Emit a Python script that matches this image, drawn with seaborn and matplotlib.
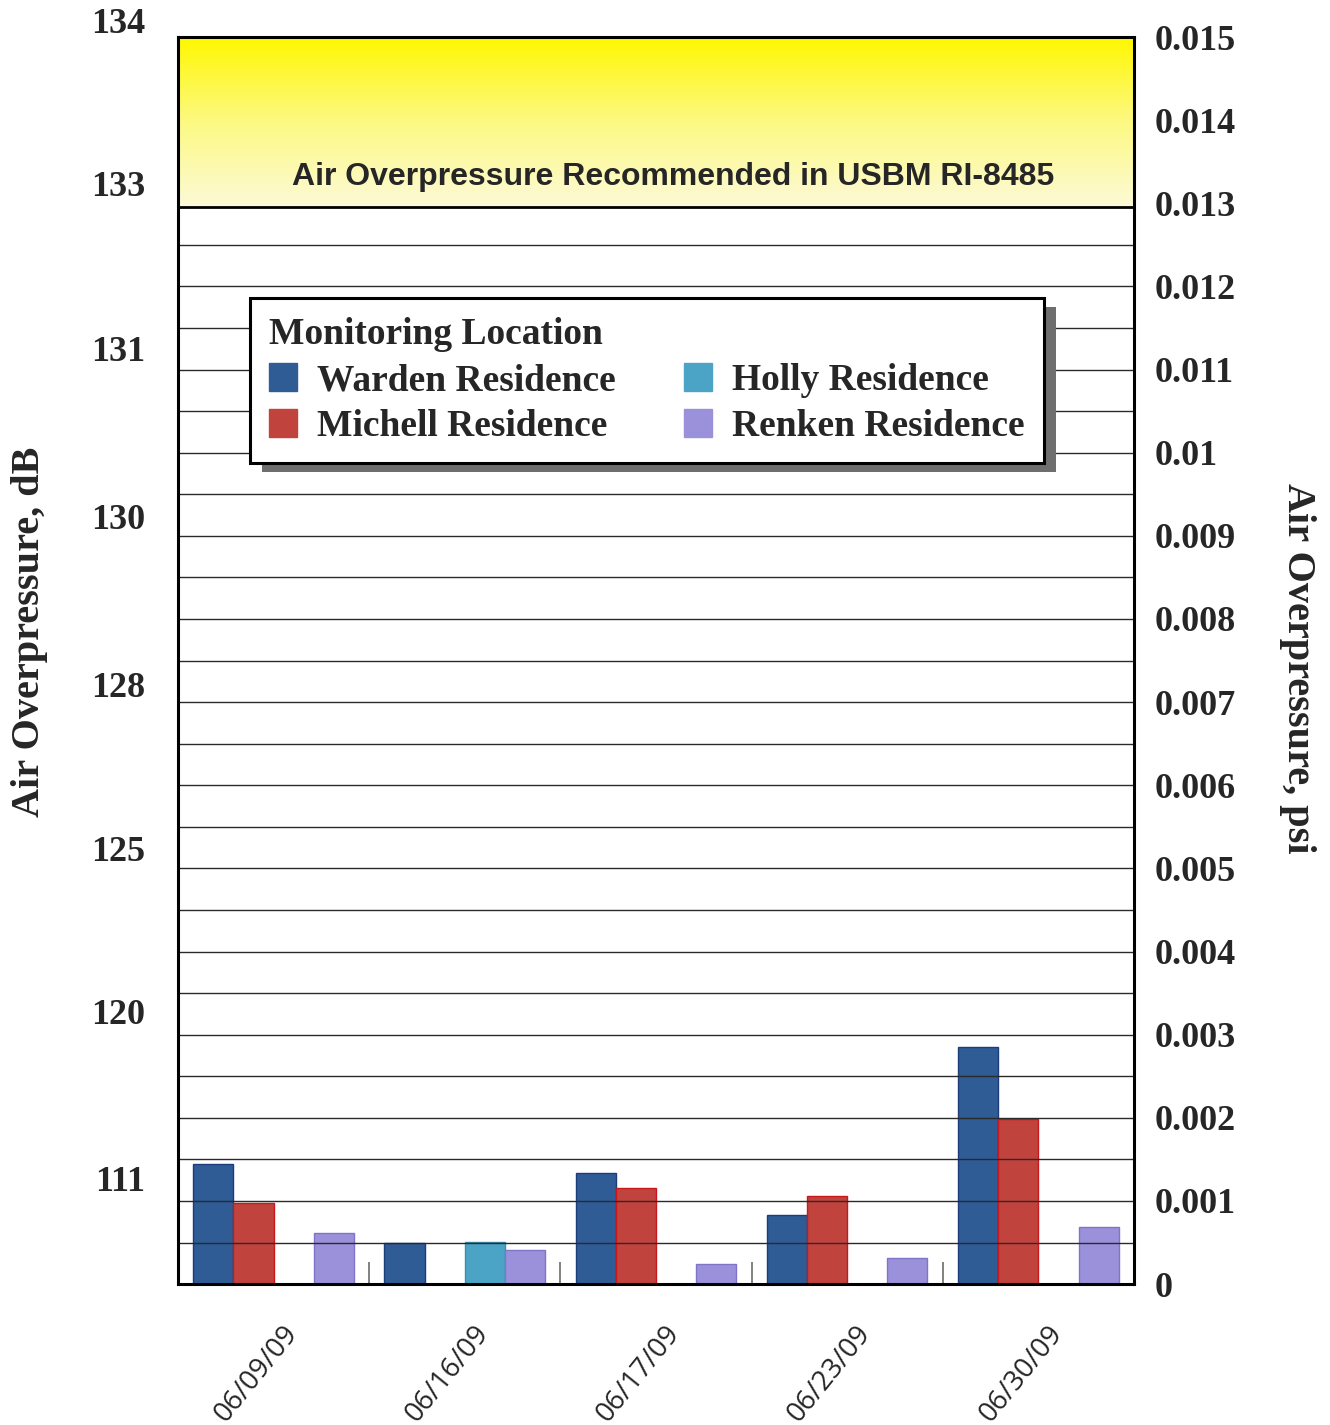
import numpy as np
import pandas as pd
import matplotlib
matplotlib.use("Agg")
import matplotlib.pyplot as plt
import matplotlib.transforms as mtransforms
from matplotlib.patches import Patch, Rectangle
from matplotlib.ticker import FixedLocator, MultipleLocator
from matplotlib.colors import LinearSegmentedColormap
import seaborn as sns

# ---------------- data ----------------
dates = ["06/09/09", "06/16/09", "06/17/09", "06/23/09", "06/30/09"]
locations = ["Warden Residence", "Michell Residence", "Holly Residence", "Renken Residence"]
warden = [0.00144, 0.00050, 0.00133, 0.00083, 0.00285]
michell = [0.00098, np.nan, 0.00115, 0.00106, 0.00198]
holly = [np.nan, 0.00051, np.nan, np.nan, np.nan]
renken = [0.00061, 0.00041, 0.00024, 0.00031, 0.00069]

psi_ticks = [0.000, 0.001, 0.002, 0.003, 0.004, 0.005, 0.006, 0.007,
             0.008, 0.009, 0.010, 0.011, 0.012, 0.013, 0.014, 0.015]
psi_labels = ["0", "0.001", "0.002", "0.003", "0.004", "0.005", "0.006", "0.007",
              "0.008", "0.009", "0.01", "0.011", "0.012", "0.013", "0.014", "0.015"]
db_labels = ["134", "133", "131", "130", "128", "125", "120", "111"]
db_label_psi = [0.01515, 0.01319, 0.0112, 0.00918, 0.00716, 0.00519, 0.00323, 0.00122]
limit_psi = 0.01296
band_text = "Air Overpressure Recommended in USBM RI-8485"

colors = ["#2f5c95", "#c0433d", "#4ba4c6", "#9b91da"]
edge_colors = ["#1d3c7c", "#c8181e", "#3a8fb0", "#7f74c8"]

df = pd.DataFrame({
    "date": dates * 4,
    "location": sum([[loc] * len(dates) for loc in locations], []),
    "psi": warden + michell + holly + renken,
})

# ---------------- figure ----------------
sns.set_theme(style="white")
plt.rcParams["font.family"] = ["Liberation Serif", "DejaVu Serif"]

fig = plt.figure(figsize=(13.3, 14.25), dpi=100)
ax = fig.add_axes([0.1338, 0.0989, 0.7188, 0.8751])

sns.barplot(data=df, x="date", y="psi", hue="location", order=dates,
            hue_order=locations, palette=colors, width=0.84, errorbar=None,
            saturation=1, legend=False, ax=ax)
for cont, ec in zip(ax.containers, edge_colors):
    for bar in cont:
        bar.set_edgecolor(ec)
        bar.set_linewidth(1.0)
        bar.set_zorder(1)

ax.set_xlim(-0.5, len(dates) - 0.5)
ax.set_ylim(0, 0.015)

# yellow recommended-limit band (gradient)
cmap = LinearSegmentedColormap.from_list("band", ["#fcfad8", "#fdf983", "#fff700"])
grad = np.linspace(0, 1, 256).reshape(-1, 1)
ax.imshow(grad, extent=[-0.5, len(dates) - 0.5, limit_psi, 0.015], origin="lower",
          cmap=cmap, aspect="auto", zorder=2.7, interpolation="bilinear")
ax.axhline(limit_psi, color="black", lw=2.0, zorder=2.8)
ax.set_xlim(-0.5, len(dates) - 0.5)
ax.set_ylim(0, 0.015)
ax.text(2.089, 0.01332, band_text, ha="center", va="center", fontsize=23,
        fontweight="bold", family=["Liberation Sans", "DejaVu Sans"], zorder=3)

# y axis: psi on right, grid every 0.0005
ax.yaxis.set_major_locator(FixedLocator(psi_ticks))
ax.set_yticklabels(psi_labels)
ax.yaxis.set_minor_locator(MultipleLocator(0.0005))
ax.set_axisbelow(False)
ax.grid(True, which="both", axis="y", color="#2a2a2a", lw=1.0)
ax.grid(False, axis="x")
ax.tick_params(axis="y", which="both", length=0, left=False, right=False,
               labelleft=False, labelright=True, pad=15)
for t in ax.get_yticklabels():
    t.set_fontsize(26)
    t.set_fontweight("bold")

# x axis
ax.set_xlabel("")
ax.set_ylabel("")
ax.set_xticks(range(len(dates)))
ax.set_xticklabels(dates, rotation=51, ha="right", va="top",
                   fontsize=20, family=["Open Sans", "DejaVu Sans"])
ax.set_xticks([i + 0.5 for i in range(len(dates) - 1)], minor=True)
ax.tick_params(axis="x", which="major", length=0, pad=26, bottom=True)
ax.tick_params(axis="x", which="minor", length=16, width=1.3, color="#777777",
               direction="in", bottom=True)
offset = mtransforms.ScaledTranslation(0.30, 0, fig.dpi_scale_trans)
for t in ax.get_xticklabels():
    t.set_transform(t.get_transform() + offset)

for s in ax.spines.values():
    s.set_visible(True)
    s.set_color("black")
    s.set_linewidth(2.2)
    s.set_zorder(4)

# left dB labels
for lbl, pos in zip(db_labels, db_label_psi):
    ax.text(-0.034, pos, lbl, transform=ax.get_yaxis_transform(), ha="right",
            va="center", fontsize=26, fontweight="bold", clip_on=False)

# axis titles
ax.text(-0.1548, 0.5229, "Air Overpressure, dB", transform=ax.transAxes,
        rotation=90, ha="center", va="center", fontsize=29, fontweight="bold")
ax.text(1.1715, 0.494, "Air Overpressure, psi", transform=ax.transAxes,
        rotation=270, ha="center", va="center", fontsize=29, fontweight="bold")

# legend
handles = [Patch(facecolor=c, edgecolor=c) for c in colors]
leg = ax.legend(handles, locations, title="Monitoring Location", ncol=2,
                loc="upper left", bbox_to_anchor=(0.0753, 0.7907), borderaxespad=0,
                frameon=True, fancybox=False, edgecolor="black", framealpha=1,
                prop=dict(weight="bold", size=27),
                title_fontproperties=dict(weight="bold", size=27),
                alignment="left", handlelength=0.75, handleheight=0.75,
                handletextpad=0.55, columnspacing=1.8, labelspacing=0.3,
                borderpad=0.5)
leg.get_frame().set_linewidth(2.2)
leg.set_zorder(6)

fig.canvas.draw()
renderer = fig.canvas.get_renderer()
bb = leg.get_frame().get_window_extent(renderer)
shadow = Rectangle((bb.x0 + 12, bb.y0 - 9), bb.width, bb.height,
                   transform=mtransforms.IdentityTransform(), facecolor="#6e6e6e",
                   edgecolor="none", zorder=5.5, clip_on=False)
ax.add_artist(shadow)

fig.savefig("out.png", dpi=100)
